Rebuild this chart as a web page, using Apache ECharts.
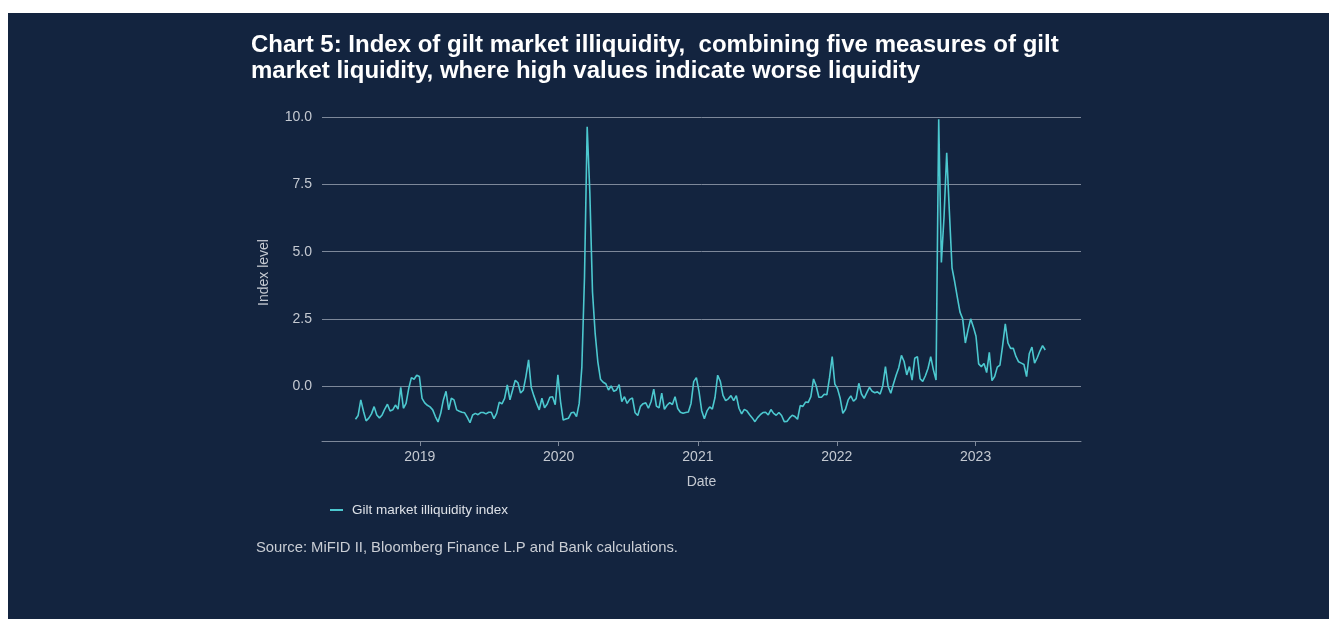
<!DOCTYPE html>
<html>
<head>
    <meta charset="utf-8">
    <title>Gilt market illiquidity</title>
    <script src="https://cdn.jsdelivr.net/npm/echarts@6/dist/echarts.min.js"></script>
    <style>
        body { margin: 0; background: #ffffff; }
        #main { position: absolute; left: 8px; top: 13px; width: 1321px; height: 606px; background: #13243f; }
    </style>
</head>
<body>
    <div id="main"></div>
    <script type="text/javascript">
        // weekly observations, first one in mid July 2018
        var startDate = '2018-07-16';
        var illiquidity = [
            -1.24, -1.10, -0.52, -0.94, -1.30, -1.20, -1.04, -0.77, -1.08, -1.19,
            -1.08, -0.86, -0.68, -0.93, -0.89, -0.71, -0.86, -0.05, -0.83, -0.65,
            -0.09, 0.31, 0.25, 0.40, 0.35, -0.46, -0.63, -0.72, -0.78, -0.89,
            -1.14, -1.34, -1.02, -0.52, -0.20, -0.89, -0.46, -0.52, -0.89, -0.94,
            -0.98, -1.00, -1.17, -1.37, -1.08, -1.02, -1.07, -0.99, -0.99, -1.04,
            -0.98, -0.98, -1.22, -1.02, -0.60, -0.67, -0.46, 0.04, -0.52, -0.15,
            0.21, 0.12, -0.26, -0.16, 0.35, 0.97, -0.06, -0.37, -0.65, -0.89,
            -0.46, -0.81, -0.67, -0.42, -0.40, -0.70, 0.41, -0.58, -1.27, -1.23,
            -1.20, -1.00, -0.98, -1.14, -0.65, 0.70, 4.07, 9.65, 7.20, 3.50,
            1.96, 0.90, 0.25, 0.14, 0.08, -0.15, 0.00, -0.20, -0.15, 0.05,
            -0.58, -0.40, -0.65, -0.50, -0.45, -1.00, -1.10, -0.76, -0.66, -0.63,
            -0.83, -0.58, -0.12, -0.75, -0.82, -0.27, -0.87, -0.72, -0.62, -0.69,
            -0.40, -0.84, -0.98, -1.02, -0.99, -0.97, -0.65, 0.16, 0.31, -0.21,
            -0.92, -1.22, -0.93, -0.78, -0.86, -0.43, 0.40, 0.17, -0.35, -0.55,
            -0.48, -0.36, -0.55, -0.36, -0.83, -1.04, -0.87, -0.93, -1.07, -1.19,
            -1.33, -1.18, -1.07, -0.99, -0.98, -1.08, -0.88, -1.02, -1.09, -0.99,
            -1.10, -1.33, -1.32, -1.19, -1.09, -1.14, -1.24, -0.73, -0.76, -0.60,
            -0.61, -0.40, 0.26, 0.00, -0.42, -0.42, -0.31, -0.33, 0.31, 1.09,
            0.07, -0.10, -0.46, -1.02, -0.87, -0.52, -0.37, -0.57, -0.47, 0.10,
            -0.30, -0.46, -0.25, -0.05, -0.20, -0.25, -0.22, -0.30, 0.01, 0.72,
            -0.02, -0.27, 0.07, 0.40, 0.68, 1.14, 0.91, 0.41, 0.72, 0.22,
            1.03, 1.09, 0.27, 0.17, 0.38, 0.66, 1.09, 0.60, 0.22, 9.93,
            4.60, 6.30, 8.68, 6.50, 4.40, 3.88, 3.30, 2.75, 2.50, 1.60,
            2.08, 2.50, 2.20, 1.85, 0.82, 0.72, 0.84, 0.50, 1.25, 0.20,
            0.35, 0.70, 0.78, 1.50, 2.31, 1.60, 1.40, 1.40, 1.10, 0.90,
            0.85, 0.80, 0.35, 1.20, 1.45, 0.85, 1.05, 1.30, 1.50, 1.34
        ];
        var yearTicks = ['2019-01-01', '2020-01-01', '2021-01-01', '2022-01-01', '2023-01-01'];
        var levelTicks = [0, 2.5, 5, 7.5, 10];
        var axisStart = '2018-04-19';
        var axisEnd = '2023-10-05';

        var week = 7 * 24 * 3600 * 1000;
        var t0 = Date.parse(startDate);
        var seriesData = illiquidity.map(function (v, i) {
            return [t0 + i * week, v];
        });
        var yearValues = yearTicks.map(function (d) { return Date.parse(d); });

        var myChart = echarts.init(document.getElementById('main'));

        var textColor = '#c4c9d1';
        var gridColor = '#7d889a';
        var font = 'Liberation Sans, Arial, sans-serif';

        var option = {
            backgroundColor: '#13243f',
            title: {
                text: 'Chart 5: Index of gilt market illiquidity,  combining five measures of gilt\nmarket liquidity, where high values indicate worse liquidity',
                left: 243,
                top: 20,
                padding: 0,
                textStyle: {
                    color: '#ffffff',
                    fontSize: 24,
                    fontWeight: 'bold',
                    fontFamily: font,
                    lineHeight: 25.5
                }
            },
            legend: {
                data: ['Gilt market illiquidity index'],
                left: 317,
                top: 485,
                icon: 'rect',
                itemWidth: 13,
                itemHeight: 2,
                textStyle: { color: '#dde1e7', fontSize: 13.5, fontFamily: font, padding: [0, 0, 0, 4] }
            },
            grid: {
                left: 314,
                right: 248,
                top: 91,
                bottom: 178
            },
            xAxis: {
                type: 'value',
                min: Date.parse(axisStart),
                max: Date.parse(axisEnd),
                name: 'Date',
                nameLocation: 'middle',
                nameGap: 34,
                nameTextStyle: { color: textColor, fontSize: 14, fontFamily: font },
                axisLine: { show: true, onZero: false, lineStyle: { color: gridColor, width: 1 } },
                axisTick: {
                    show: true,
                    length: 5,
                    customValues: yearValues,
                    lineStyle: { color: gridColor }
                },
                axisLabel: {
                    customValues: yearValues,
                    color: textColor,
                    fontSize: 14,
                    fontFamily: font,
                    margin: 9,
                    formatter: function (v) { return String(new Date(v).getUTCFullYear()); }
                },
                splitLine: { show: false }
            },
            yAxis: {
                type: 'value',
                min: -2.05,
                max: 10.5,
                name: 'Index level',
                nameLocation: 'middle',
                nameGap: 51,
                nameTextStyle: { color: textColor, fontSize: 14, fontFamily: font },
                axisLine: { show: false },
                axisTick: { show: false, customValues: levelTicks },
                axisLabel: {
                    customValues: levelTicks,
                    color: textColor,
                    fontSize: 14,
                    fontFamily: font,
                    margin: 10,
                    formatter: function (v) { return v.toFixed(1); }
                },
                splitLine: { show: true, lineStyle: { color: gridColor, width: 1 } }
            },
            series: [{
                name: 'Gilt market illiquidity index',
                type: 'line',
                data: seriesData,
                symbol: 'none',
                color: '#4cc8cf',
                lineStyle: { width: 1.6, color: '#4cc8cf' },
                animation: false
            }],
            graphic: [{
                type: 'text',
                left: 248,
                top: 527,
                style: {
                    text: 'Source: MiFID II, Bloomberg Finance L.P and Bank calculations.',
                    fill: '#c9cdd4',
                    font: '14.8px Liberation Sans, Arial, sans-serif'
                }
            }]
        };

        myChart.setOption(option);
    </script>
</body>
</html>
